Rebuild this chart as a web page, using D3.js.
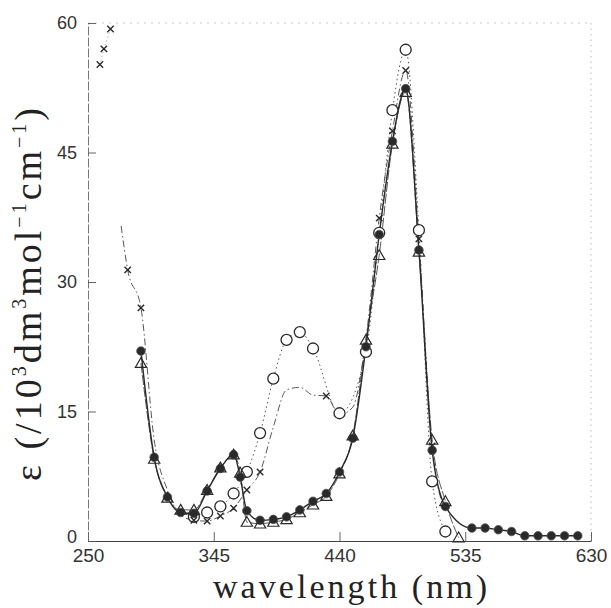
<!DOCTYPE html>
<html>
<head>
<meta charset="utf-8">
<script src="https://cdn.jsdelivr.net/npm/d3@7"></script>
<style>
  body { margin: 0; background: #fff; }
  svg { display: block; }
</style>
</head>
<body>
<div id="chart"></div>
<script>
// absorption spectra, epsilon in 10^3 dm3 mol-1 cm-1

// solid line, filled circles
const wlA  = [290,300,310,320,330,340,350,360,365,370,380,390,400,410,420,430,440,450,460,470,480,490,500,510,520,540,550,560,570,580,590,600,610,620];
const epsA = [22.0,9.7,5.1,3.3,3.2,5.8,8.4,10.0,7.4,3.5,2.4,2.5,2.8,3.6,4.6,5.5,8.0,11.9,22.5,35.5,46.3,52.4,33.7,10.5,4.0,1.5,1.5,1.3,1.1,0.6,0.6,0.6,0.6,0.6];

// thin line, open triangles
const wlB  = [290,300,310,320,330,340,350,360,365,370,380,390,400,410,420,430,440,450,460,470,480,490,500,510,520,530];
const epsB = [20.6,9.5,5.0,3.6,3.6,5.9,8.5,10.0,7.9,2.2,2.0,2.2,2.5,3.3,4.2,5.2,7.8,12.2,23.3,33.1,46.0,52.0,33.5,11.7,4.6,0.4];

// dotted line, open circles
const wlC  = [330,340,350,360,370,380,390,400,410,420,440,460,470,480,490,500,510,520];
const epsC = [2.8,3.3,4.0,5.5,8.0,12.5,18.8,23.3,24.2,22.3,14.8,21.9,35.7,49.9,56.9,36.0,6.9,1.1];

// dash-dot line, crosses
const wlD  = [275,280,290,300,310,320,330,340,350,360,370,380,390,400,410,420,430,440,450,460,470,480,490,500,510,520];
const epsD = [36.5,31.4,27.0,11.7,5.9,3.0,2.4,2.3,2.9,3.8,5.9,8.0,13.2,17.5,17.8,16.9,16.8,14.6,15.5,23.5,37.4,47.5,54.5,35.0,11.0,3.5];
const crossMarked = [280,290,330,340,350,360,370,380,430,470,480,490,500,510];

// stray crosses top left
const wlTop  = [259,262,267];
const epsTop = [55.2,57.0,59.3];

const xTicks = [250,345,440,535,630];
const yTicks = [0,15,30,45,60];

const W = 611, H = 608;
const svg = d3.select("#chart").append("svg")
  .attr("width", W).attr("height", H);

const x = d3.scaleLinear().domain([250,630]).range([88,591]);
const y = d3.scaleLinear().domain([0,60]).range([541,23]);

const ink = "#2a2a2a";

// frame (faint, like the scan)
svg.append("line").attr("x1", x(250)).attr("x2", x(630)).attr("y1", y(60)).attr("y2", y(60))
  .attr("stroke", "#bbb").attr("stroke-width", 0.8).attr("stroke-dasharray", "2,5");
svg.append("line").attr("x1", x(630)).attr("x2", x(630)).attr("y1", y(60)).attr("y2", y(0))
  .attr("stroke", "#aaa").attr("stroke-width", 0.8).attr("stroke-dasharray", "1.5,4");

// axes
const xAxis = d3.axisBottom(x).tickValues(xTicks).tickSizeInner(-9).tickSizeOuter(0).tickPadding(8);
const yAxis = d3.axisLeft(y).tickValues(yTicks).tickSizeInner(-8).tickSizeOuter(0).tickPadding(11);

const gx = svg.append("g").attr("transform", `translate(0,${y(0)})`).call(xAxis);
const gy = svg.append("g").attr("transform", `translate(${x(250)},0)`).call(yAxis);

gx.select(".domain").attr("stroke", "#444").attr("stroke-width", 1);
gy.select(".domain").attr("stroke", "#666").attr("stroke-width", 0.9).attr("stroke-dasharray", "9,2");
[gx, gy].forEach(g => {
  g.selectAll(".tick line").attr("stroke", "#555").attr("stroke-width", 0.9);
  g.selectAll(".tick text")
    .attr("fill", "#333")
    .style("font-family", "'Liberation Sans', Arial, sans-serif");
});
gx.selectAll(".tick text").style("font-size", "19px");
gy.selectAll(".tick text").style("font-size", "18px");
// the "0" sits just above the "250" in the scan
gy.selectAll(".tick text").filter(d => d === 0).attr("y", -4);

// curves
const line = d3.line()
  .x(d => x(d[0])).y(d => y(d[1]))
  .curve(d3.curveMonotoneX);

const zip = (a, b) => a.map((v, i) => [v, b[i]]);
const dataA = zip(wlA, epsA), dataB = zip(wlB, epsB), dataC = zip(wlC, epsC), dataD = zip(wlD, epsD);
const dataTop = zip(wlTop, epsTop);

svg.append("path").datum(dataC).attr("d", line)
  .attr("fill", "none").attr("stroke", "#555").attr("stroke-width", 1).attr("stroke-dasharray", "1.5,3");
svg.append("path").datum(dataD).attr("d", line)
  .attr("fill", "none").attr("stroke", "#444").attr("stroke-width", 0.9).attr("stroke-dasharray", "7,3,1.5,3");
svg.append("path").datum(dataB).attr("d", line)
  .attr("fill", "none").attr("stroke", "#444").attr("stroke-width", 0.9).attr("stroke-dasharray", "10,2");
svg.append("path").datum(dataA).attr("d", line)
  .attr("fill", "none").attr("stroke", ink).attr("stroke-width", 1.4);
svg.append("path").datum(dataTop).attr("d", d3.line().x(d => x(d[0])).y(d => y(d[1])))
  .attr("fill", "none").attr("stroke", "#777").attr("stroke-width", 0.8).attr("stroke-dasharray", "1,3");

// markers
svg.append("g").selectAll("circle").data(dataC).join("circle")
  .attr("cx", d => x(d[0])).attr("cy", d => y(d[1])).attr("r", 5.5)
  .attr("fill", "#fff").attr("stroke", ink).attr("stroke-width", 1.3);

svg.append("g").selectAll("circle").data(dataA).join("circle")
  .attr("cx", d => x(d[0])).attr("cy", d => y(d[1])).attr("r", 4.3)
  .attr("fill", ink).attr("stroke", "#555").attr("stroke-width", 0.8);

const tri = d3.symbol().type(d3.symbolTriangle).size(55);
svg.append("g").selectAll("path").data(dataB).join("path")
  .attr("transform", d => `translate(${x(d[0])},${y(d[1]) + 1})`)
  .attr("d", tri)
  .attr("fill", "none").attr("stroke", ink).attr("stroke-width", 1.2);

const crossPath = s => `M${-s},${-s}L${s},${s}M${-s},${s}L${s},${-s}`;
const crossData = dataD.filter(d => crossMarked.includes(d[0])).concat(dataTop);
svg.append("g").selectAll("path").data(crossData).join("path")
  .attr("transform", d => `translate(${x(d[0])},${y(d[1])})`)
  .attr("d", crossPath(3.2))
  .attr("fill", "none").attr("stroke", ink).attr("stroke-width", 1.4);

// axis titles
svg.append("text")
  .attr("x", 213).attr("y", 598)
  .attr("textLength", 274).attr("lengthAdjust", "spacing")
  .style("font-family", "'Liberation Serif', 'Times New Roman', serif")
  .style("font-size", "34px").attr("fill", "#222")
  .text("wavelength (nm)");

const yt = svg.append("text")
  .attr("transform", "translate(41,481) rotate(-90)")
  .attr("text-anchor", "start")
  .style("font-family", "'Liberation Serif', 'Times New Roman', serif")
  .style("font-size", "38px").style("letter-spacing", "3px").attr("fill", "#222");

const parts = [
  ["ε", 0], [" (/10", 0], ["3", 1], ["dm", 0], ["3", 1], ["mol", 0],
  ["−1", 1], ["cm", 0], ["−1", 1], [")", 0]
];
let raised = false;
parts.forEach(([t, sup]) => {
  const ts = yt.append("tspan").text(t);
  if (sup && !raised) { ts.attr("dy", -15).style("font-size", "20px"); raised = true; }
  else if (sup) { ts.style("font-size", "20px"); }
  else if (raised) { ts.attr("dy", 15); raised = false; }
});
</script>
</body>
</html>
